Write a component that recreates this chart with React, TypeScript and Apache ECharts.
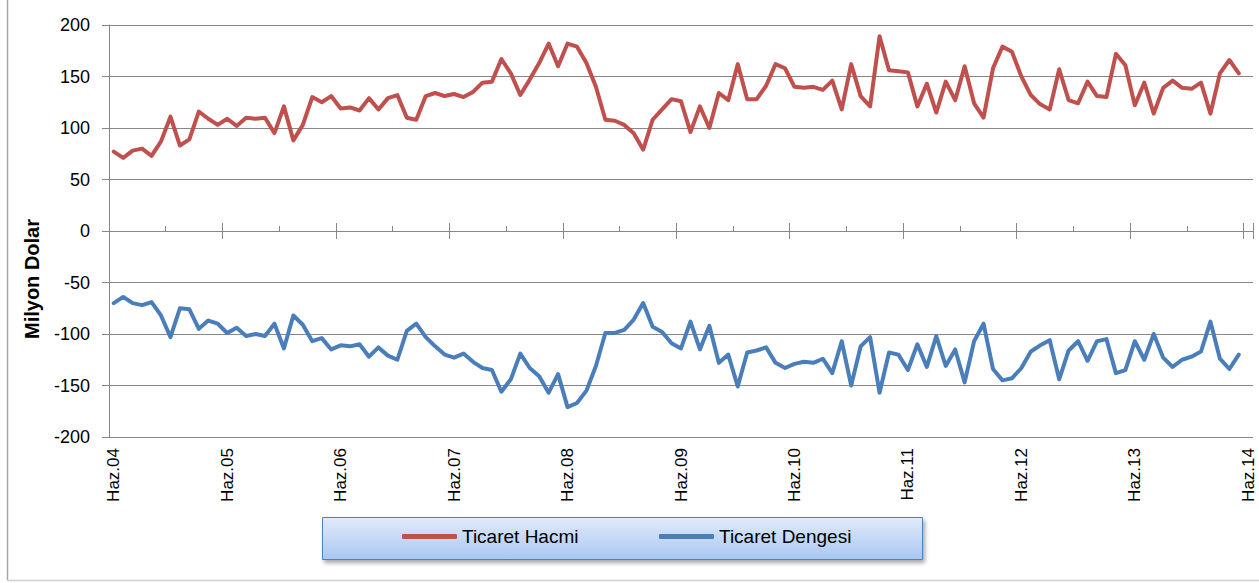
import React, { useEffect, useRef } from "react";
import * as echarts from "echarts";

// Turkish month abbreviations; axis runs Jun 2004 .. Jun 2014 (121 months)
const monthNames = ["Oca", "Şub", "Mar", "Nis", "May", "Haz", "Tem", "Ağu", "Eyl", "Eki", "Kas", "Ara"];
const startYear = 2004;
const startMonth = 5; // June (0-based)
const monthCount = 121;

const categories: string[] = [];
for (let k = 0; k < monthCount; k++) {
  const m = (startMonth + k) % 12;
  const y = startYear + Math.floor((startMonth + k) / 12);
  categories.push(monthNames[m] + "." + String(y % 100).padStart(2, "0"));
}

// Ticaret Hacmi (trade volume), million USD, Jun 2004 - May 2014
const ticaretHacmi = [
  77, 71, 78, 80, 73, 87, 111, 83, 89, 116,
  109, 103, 109, 102, 110, 109, 110, 95, 121, 88,
  103, 130, 125, 131, 119, 120, 117, 129, 118, 129,
  132, 110, 108, 131, 134, 131, 133, 130, 135, 144,
  145, 167, 153, 132, 147, 163, 182, 160, 182, 179,
  163, 140, 108, 107, 103, 95, 79, 108, 118, 128,
  126, 96, 121, 100, 134, 127, 162, 128, 128, 141,
  162, 158, 140, 139, 140, 137, 146, 118, 162, 131,
  121, 189, 156, 155, 154, 121, 143, 115, 145, 127,
  160, 124, 110, 158, 179, 174, 150, 132, 123, 118,
  157, 127, 124, 145, 131, 130, 172, 161, 122, 144,
  114, 139, 146, 139, 138, 144, 114, 153, 166, 153,
];

// Ticaret Dengesi (trade balance), million USD, Jun 2004 - May 2014
const ticaretDengesi = [
  -70, -64, -70, -72, -69, -82, -103, -75, -76, -95,
  -87, -90, -99, -94, -102, -100, -102, -90, -114, -82,
  -91, -107, -104, -115, -111, -112, -110, -122, -113, -121,
  -125, -97, -90, -103, -112, -120, -123, -119, -127, -133,
  -135, -156, -144, -119, -133, -141, -157, -139, -171, -167,
  -155, -131, -99, -99, -96, -86, -70, -93, -98, -109,
  -114, -88, -115, -92, -128, -120, -151, -118, -116, -113,
  -128, -133, -129, -127, -128, -124, -138, -107, -150, -112,
  -103, -157, -118, -120, -135, -110, -132, -102, -131, -115,
  -147, -107, -90, -134, -145, -143, -133, -117, -111, -106,
  -144, -116, -107, -126, -107, -105, -138, -135, -107, -125,
  -100, -123, -132, -125, -122, -117, -88, -124, -134, -120,
];

const seriesNames = ["Ticaret Hacmi", "Ticaret Dengesi"];
const yAxisTitle = "Milyon Dolar";

const FONT = "'Liberation Sans', Arial, sans-serif";
const GRID_COLOR = "#878787";

export default function App() {
  const ref = useRef<HTMLDivElement>(null);

  useEffect(() => {
    if (!ref.current) return;
    const chart = echarts.init(ref.current, undefined, { renderer: "svg" });

    const tickAxis = (interval: (i: number) => boolean, length: number, inside: boolean, showLine: boolean) => ({
      type: "category",
      data: categories,
      boundaryGap: true,
      position: "bottom",
      axisLine: { show: showLine, onZero: true, onZeroAxisIndex: 0, lineStyle: { color: GRID_COLOR, width: 1 } },
      axisTick: { show: true, interval: (i: number) => interval(i), length, inside, lineStyle: { color: GRID_COLOR, width: 1 } },
      axisLabel: { show: false },
      splitLine: { show: false },
    });

    const legendBase = {
      top: 527,
      padding: 0,
      itemWidth: 55,
      itemHeight: 5,
      icon: "roundRect",
      z: 10,
      textStyle: { fontSize: 19, color: "#000", fontFamily: FONT },
    };

    chart.setOption({
      animation: false,
      backgroundColor: "#ffffff",
      textStyle: { fontFamily: FONT },
      grid: { left: 109, right: 6, top: 25, bottom: 146, containLabel: false },
      xAxis: [
        {
          type: "category",
          data: categories,
          boundaryGap: true,
          position: "bottom",
          axisLine: { show: false, onZero: false },
          axisTick: { show: false },
          splitLine: { show: false },
          axisLabel: {
            interval: (i: number) => i % 12 === 0,
            rotate: 90,
            margin: 11,
            fontSize: 17,
            color: "#000",
            fontFamily: FONT,
          },
        },
        tickAxis((i) => i % 12 === 0, 8, false, true),
        tickAxis((i) => i % 12 === 0, 8, true, false),
        tickAxis((i) => i % 12 === 6, 5, true, false),
      ],
      yAxis: {
        type: "value",
        min: -200,
        max: 200,
        interval: 50,
        axisLine: { show: true, lineStyle: { color: GRID_COLOR, width: 1 } },
        axisTick: { show: true, length: 7, lineStyle: { color: GRID_COLOR, width: 1 } },
        splitLine: { show: true, lineStyle: { color: GRID_COLOR, width: 1 } },
        axisLabel: { margin: 19, fontSize: 18, color: "#000", fontFamily: FONT },
      },
      legend: [
        { ...legendBase, data: [seriesNames[0]], left: 402 },
        { ...legendBase, data: [seriesNames[1]], left: 659 },
      ],
      graphic: [
        {
          type: "line",
          shape: { x1: 7.5, y1: 0, x2: 7.5, y2: 580 },
          style: { stroke: "#a6a6a6", lineWidth: 1.5 },
          silent: true,
        },
        {
          type: "line",
          shape: { x1: 7, y1: 580.5, x2: 1259, y2: 580.5 },
          style: { stroke: "#d0d0d0", lineWidth: 1.5 },
          silent: true,
        },
        {
          type: "rect",
          shape: { x: 322.5, y: 517.5, width: 600, height: 42 },
          z: 1,
          silent: true,
          style: {
            fill: new echarts.graphic.LinearGradient(0, 0, 0, 1, [
              { offset: 0, color: "#e1ebfa" },
              { offset: 1, color: "#a9c7f2" },
            ]),
            stroke: "#4f81bd",
            lineWidth: 1,
            shadowBlur: 4,
            shadowOffsetX: 2,
            shadowOffsetY: 3,
            shadowColor: "rgba(0,0,0,0.35)",
          },
        },
        {
          type: "text",
          x: 32,
          y: 279,
          rotation: Math.PI / 2,
          silent: true,
          style: {
            text: yAxisTitle,
            font: "bold 20px " + FONT,
            fill: "#000",
            textAlign: "center",
            textVerticalAlign: "middle",
          },
        },
      ],
      series: [
        {
          name: seriesNames[0],
          type: "line",
          xAxisIndex: 0,
          data: ticaretHacmi,
          showSymbol: false,
          symbol: "none",
          color: "#c0504d",
          lineStyle: { color: "#c0504d", width: 4, join: "round", cap: "round" },
        },
        {
          name: seriesNames[1],
          type: "line",
          xAxisIndex: 0,
          data: ticaretDengesi,
          showSymbol: false,
          symbol: "none",
          color: "#4a7ebb",
          lineStyle: { color: "#4a7ebb", width: 4, join: "round", cap: "round" },
        },
      ],
    });

    return () => chart.dispose();
  }, []);

  return (
    <div
      ref={ref}
      style={{ position: "absolute", left: 0, top: 0, width: 1259, height: 583, background: "#fff" }}
    />
  );
}
